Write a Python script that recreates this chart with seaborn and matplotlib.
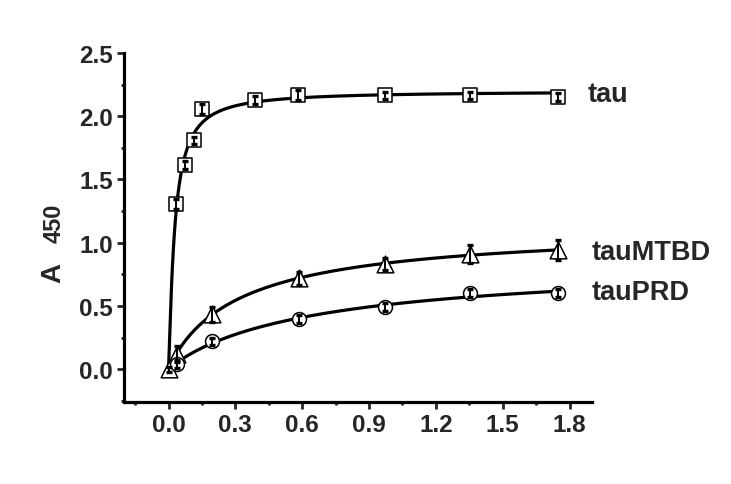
import numpy as np
import pandas as pd
import matplotlib
matplotlib.use("Agg")
import matplotlib.pyplot as plt
import seaborn as sns
from matplotlib.ticker import MultipleLocator

# ---- data ----
tau_x = [0.035, 0.075, 0.113, 0.152, 0.387, 0.580, 0.970, 1.355, 1.748]
tau_y = [1.306, 1.615, 1.808, 2.058, 2.130, 2.170, 2.164, 2.164, 2.150]
tau_err = [0.04, 0.03, 0.03, 0.04, 0.03, 0.04, 0.03, 0.03, 0.03]

mtbd_x = [0.000, 0.038, 0.195, 0.585, 0.970, 1.355, 1.748]
mtbd_y = [0.000, 0.120, 0.435, 0.718, 0.831, 0.910, 0.940]
mtbd_err = [0.02, 0.06, 0.06, 0.05, 0.05, 0.07, 0.08]

prd_x = [0.037, 0.195, 0.585, 0.970, 1.355, 1.748]
prd_y = [0.040, 0.220, 0.396, 0.493, 0.600, 0.603]
prd_err = [0.03, 0.03, 0.03, 0.03, 0.03, 0.03]

series_names = ["tau", "tauMTBD", "tauPRD"]
x_ticks = [0.0, 0.3, 0.6, 0.9, 1.2, 1.5, 1.8]
y_ticks = [0.0, 0.5, 1.0, 1.5, 2.0, 2.5]


def hill_fit(x, y):
    x = np.asarray(x, float)
    y = np.asarray(y, float)
    best = None
    for n in np.linspace(0.6, 2.5, 39):
        for K in np.geomspace(0.005, 2.0, 160):
            f = x ** n / (K ** n + x ** n)
            B = (f @ y) / (f @ f)
            r = np.sum((B * f - y) ** 2)
            if best is None or r < best[0]:
                best = (r, B, K, n)
    _, B, K, n = best
    xs = np.linspace(0.0, x.max(), 400)
    return xs, B * xs ** n / (K ** n + xs ** n)


sns.set_style("ticks")
plt.rcParams['font.family'] = ['Liberation Sans', 'DejaVu Sans']
plt.rcParams['font.weight'] = 'bold'

fig = plt.figure(figsize=(7.31, 4.85), dpi=100)
ax = fig.add_axes([0.1696, 0.169, 0.640, 0.7197])

series = [
    (tau_x, tau_y, tau_err, "s", 10),
    (mtbd_x, mtbd_y, mtbd_err, "^", 12),
    (prd_x, prd_y, prd_err, "o", 10),
]

for name, (xs, ys, es, mk, ms) in zip(series_names, series):
    fx, fy = hill_fit(xs, ys)
    fit_df = pd.DataFrame({"x": fx, "y": fy})
    sns.lineplot(data=fit_df, x="x", y="y", ax=ax, color="black",
                 linewidth=2.3, zorder=2, legend=False)
    pts = pd.DataFrame({"x": xs, "y": ys})
    sns.scatterplot(data=pts, x="x", y="y", ax=ax, marker=mk, s=ms ** 2,
                    facecolor="white", edgecolor="black", linewidth=1.1,
                    zorder=3, legend=False)
    ax.errorbar(xs, ys, yerr=es, fmt="none", ecolor="black",
                elinewidth=1.4, capsize=2.5, capthick=2.4, zorder=4)

label_pos = {"tau": (1.881, 2.177), "tauMTBD": (1.899, 0.926),
             "tauPRD": (1.899, 0.61)}
for name in series_names:
    lx, ly = label_pos[name]
    ax.text(lx, ly, name, fontsize=19.5, fontweight="bold", va="center",
            ha="left", clip_on=False)

ax.set_xlim(-0.2, 1.9)
ax.set_ylim(-0.26, 2.5)
ax.set_xticks(x_ticks)
ax.set_xticklabels([f"{t:.1f}" for t in x_ticks])
ax.set_yticks(y_ticks)
ax.set_yticklabels([f"{t:.1f}" for t in y_ticks])
ax.xaxis.set_minor_locator(MultipleLocator(0.15))
ax.yaxis.set_minor_locator(MultipleLocator(0.25))
ax.tick_params(which="major", direction="out", length=5, width=2,
               labelsize=17.5, pad=3)
ax.tick_params(which="minor", direction="out", length=2.5, width=2)
for lab in ax.get_xticklabels() + ax.get_yticklabels():
    lab.set_fontweight("bold")
ax.set_xlabel("")
ax.set_ylabel("")
for side in ["top", "right"]:
    ax.spines[side].set_visible(False)
for side in ["left", "bottom"]:
    ax.spines[side].set_linewidth(2.3)
    ax.spines[side].set_color("black")

# y-axis title: "A" and slightly smaller "450"
fig.text(66 / 731, 1 - 273 / 485, "A", rotation=90, fontsize=20,
         fontweight="bold", ha="right", va="center")
fig.text(66 / 731, 1 - 223 / 485, "450", rotation=90, fontsize=17,
         fontweight="bold", ha="right", va="center")

fig.savefig("out.png", dpi=100)
